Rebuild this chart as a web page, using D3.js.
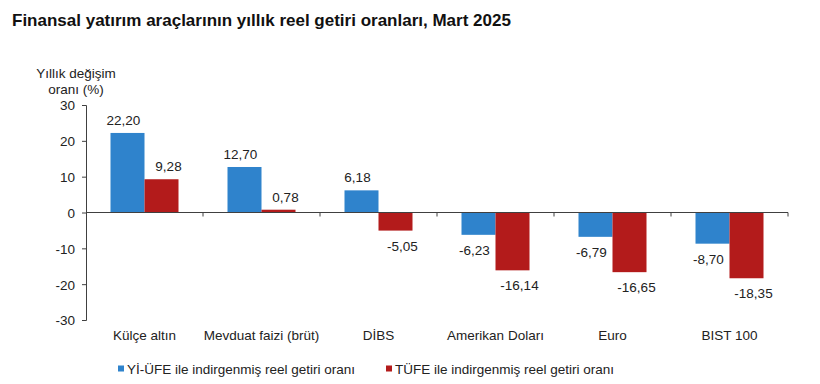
<!DOCTYPE html>
<html>
<head>
<meta charset="utf-8">
<script src="https://cdn.jsdelivr.net/npm/d3@7"></script>
<style>
    body { margin: 0; background: #fff; }
    text { font-family: Arial, "Liberation Sans", sans-serif; fill: #222; }
    .axis path, .axis line { stroke: #404040; }
    .axis text { font-size: 13.5px; fill: #222; }
</style>
</head>
<body>
<svg id="chart" width="820" height="384"></svg>
<script>
// data
const categories = ["Külçe altın", "Mevduat faizi (brüt)", "DİBS", "Amerikan Doları", "Euro", "BIST 100"];
const seriesNames = ["Yİ-ÜFE ile indirgenmiş reel getiri oranı", "TÜFE ile indirgenmiş reel getiri oranı"];
const yiufeValues = [22.20, 12.70, 6.18, -6.23, -6.79, -8.70];
const tufeValues = [9.28, 0.78, -5.05, -16.14, -16.65, -18.35];
const yTicks = [-30, -20, -10, 0, 10, 20, 30];

const colors = ["#2f83cc", "#b31b1b"];
const labelShift = [-4, 7];

const svg = d3.select("#chart");

svg.append("text")
    .attr("x", 12)
    .attr("y", 26)
    .style("font-size", "17px")
    .style("font-weight", "bold")
    .style("fill", "#111")
    .text("Finansal yatırım araçlarının yıllık reel getiri oranları, Mart 2025");

const y = d3.scaleLinear().domain([-30, 30]).range([320, 105]);
const x0 = d3.scaleBand().domain(categories).range([86, 788]);
const x1 = d3.scaleBand().domain([0, 1]).range([24.5, 92.5]);

// axis title
const yTitle = svg.append("text")
    .attr("text-anchor", "middle")
    .style("font-size", "13.5px");
yTitle.append("tspan").attr("x", 76).attr("y", 78).text("Yıllık değişim");
yTitle.append("tspan").attr("x", 76).attr("y", 94).text("oranı (%)");

// bars
const rows = categories.map((c, i) => ({ cat: c, vals: [yiufeValues[i], tufeValues[i]] }));

const group = svg.append("g").selectAll("g")
    .data(rows)
    .enter().append("g")
    .attr("transform", d => `translate(${x0(d.cat)},0)`);

group.selectAll("rect")
    .data(d => d.vals.map((v, s) => ({ v, s })))
    .enter().append("rect")
    .attr("x", d => x1(d.s))
    .attr("width", x1.bandwidth())
    .attr("y", d => y(Math.max(0, d.v)))
    .attr("height", d => Math.abs(y(d.v) - y(0)))
    .style("fill", d => colors[d.s]);

// comma decimals, plain hyphen for minus like the original
const fmt = v => v.toFixed(2).replace(".", ",");

group.selectAll("text.val")
    .data(d => d.vals.map((v, s) => ({ v, s })))
    .enter().append("text")
    .attr("class", "val")
    .attr("text-anchor", "middle")
    .attr("x", d => x1(d.s) + x1.bandwidth() / 2 + labelShift[d.s])
    .attr("y", d => d.v >= 0 ? y(d.v) - 8 : y(d.v) + 20)
    .style("font-size", "13.5px")
    .text(d => fmt(d.v));

// y axis
svg.append("g")
    .attr("class", "axis")
    .attr("transform", "translate(86,0)")
    .call(d3.axisLeft(y).tickValues(yTicks).tickSize(4).tickPadding(7).tickFormat(d => String(d)))
    .call(g => g.selectAll("text").attr("dy", "0.36em"));

// x axis on zero line
const xAxis = svg.append("g").attr("class", "axis");
xAxis.append("line")
    .attr("x1", 86).attr("x2", 788)
    .attr("y1", y(0)).attr("y2", y(0));
xAxis.selectAll("line.tick")
    .data(categories)
    .enter().append("line")
    .attr("class", "tick")
    .attr("x1", d => x0(d) + x0.bandwidth()).attr("x2", d => x0(d) + x0.bandwidth())
    .attr("y1", y(0)).attr("y2", y(0) + 4);

svg.append("g").selectAll("text")
    .data(categories)
    .enter().append("text")
    .attr("text-anchor", "middle")
    .attr("x", d => x0(d) + x0.bandwidth() / 2)
    .attr("y", 340)
    .style("font-size", "13.5px")
    .text(d => d);

// legend
const legendX = [118, 386];
const legend = svg.append("g").selectAll("g")
    .data(seriesNames)
    .enter().append("g")
    .attr("transform", (d, i) => `translate(${legendX[i]},369)`);

legend.append("rect")
    .attr("x", 0).attr("y", -3.5)
    .attr("width", 6).attr("height", 6)
    .style("fill", (d, i) => colors[i]);

legend.append("text")
    .attr("x", 9)
    .attr("y", 5)
    .style("font-size", "13.5px")
    .text(d => d);
</script>
</body>
</html>
